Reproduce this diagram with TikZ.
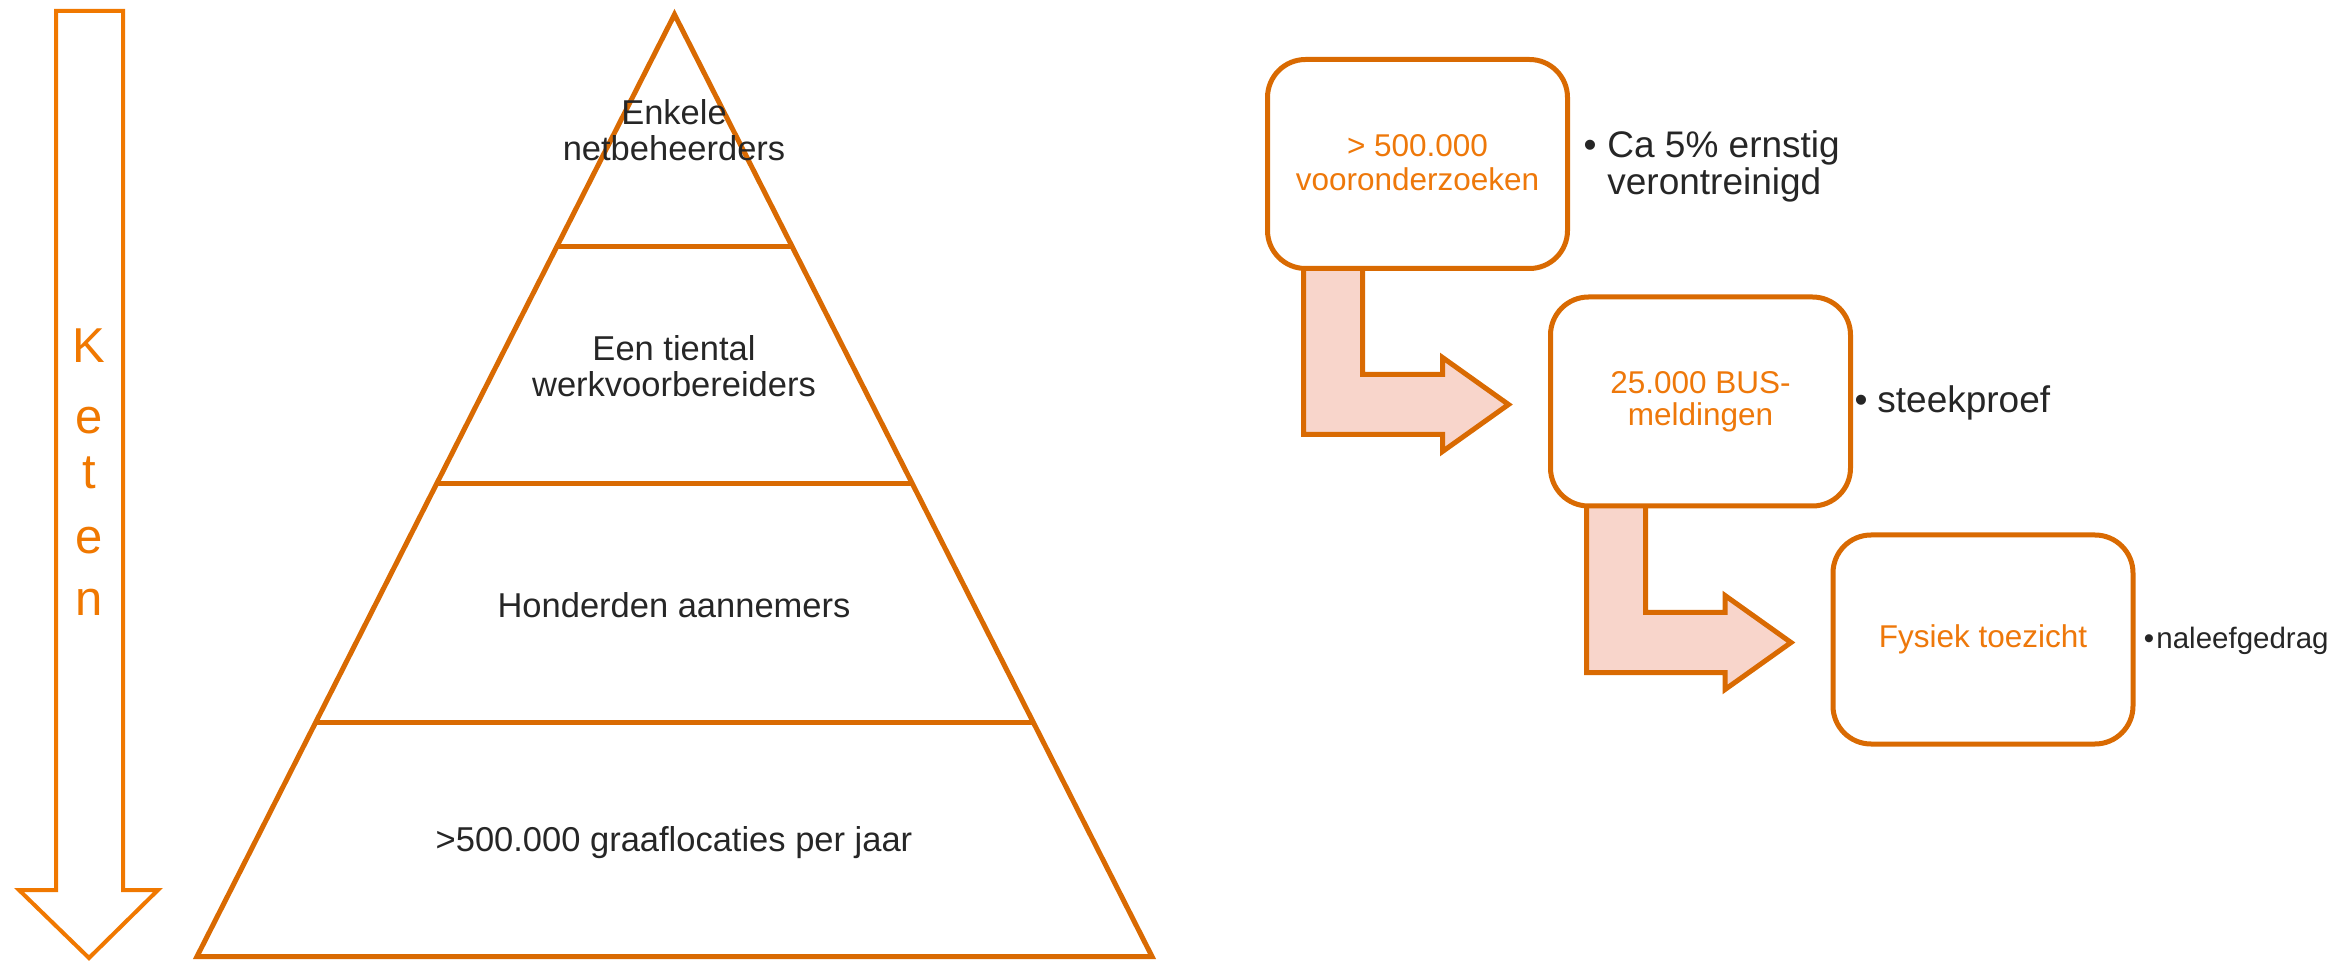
\documentclass[tikz,border=0pt]{standalone}
\usepackage{fontspec}
\setmainfont{Liberation Sans}
\usetikzlibrary{calc}
\pgfdeclarelayer{bg}
\pgfsetlayers{bg,main}
\definecolor{ketenor}{HTML}{F07800}
\definecolor{lineor}{HTML}{D96A02}
\definecolor{textor}{HTML}{EE780A}
\definecolor{txt}{HTML}{262626}
\definecolor{pinkfill}{HTML}{F8D5CB}
\begin{document}
\begin{tikzpicture}[x=0.5pt,y=-0.5pt,
  pyr/.style={draw=lineor, line width=2.5pt, line join=miter},
  pyrtext/.style={text=txt, align=center, inner sep=0pt, font=\fontsize{17.25pt}{18pt}\selectfont},
  stagebox/.style={draw=lineor, line width=2.5pt, fill=white, rounded corners=19pt,
    minimum width=150pt, minimum height=104.5pt, inner sep=0pt, outer sep=0pt,
    align=center, text=textor, font=\fontsize{15.75pt}{17pt}\selectfont},
  bentarrow/.style={draw=lineor, line width=2.5pt, fill=pinkfill, line join=miter},
  sidetext/.style={text=txt, inner sep=0pt, anchor=base west, font=\fontsize{18.5pt}{20pt}\selectfont},
  sidebullet/.style={text=txt, inner sep=0pt, anchor=base, font=\fontsize{18.5pt}{20pt}\selectfont},
  smalltext/.style={text=txt, inner sep=0pt, anchor=base west, font=\fontsize{14.75pt}{16pt}\selectfont},
  smallbullet/.style={text=txt, inner sep=0pt, anchor=base, font=\fontsize{14.75pt}{16pt}\selectfont},
  ketenletter/.style={text=ketenor, inner sep=0pt, anchor=base, font=\fontsize{24.5pt}{30pt}\selectfont},
  ketenarrow/.style={draw=ketenor, line width=2pt, line join=miter, fill=white}
]
\useasboundingbox (0,0) rectangle (2336,962);

% Keten arrow
\draw[ketenarrow] (56,11) -- (123,11) -- (123,890) -- (158,890) -- (89,958)
  -- (19,890) -- (56,890) -- cycle;
\node[ketenletter] (k1) at (89,363) {K};
\node[ketenletter] (k2) at (89,434) {e};
\node[ketenletter] (k3) at (89,489) {t};
\node[ketenletter] (k4) at (89,553) {e};
\node[ketenletter] (k5) at (89,616) {n};

% Pyramid
\coordinate (apex) at (674.5,14.5);
\coordinate (bl) at (197,956.5);
\coordinate (br) at (1152,956.5);
\draw[pyr] (apex) -- (br) -- (bl) -- cycle;
\draw[pyr] ($(apex)!0.2468!(bl)$) -- ($(apex)!0.2468!(br)$);
\draw[pyr] ($(apex)!0.4984!(bl)$) -- ($(apex)!0.4984!(br)$);
\draw[pyr] ($(apex)!0.7521!(bl)$) -- ($(apex)!0.7521!(br)$);
\node[pyrtext] (p1) at (674,130) {Enkele\\netbeheerders};
\node[pyrtext] (p2) at (674,366) {Een tiental\\werkvoorbereiders};
\node[pyrtext] (p3) at (674,605) {Honderden aannemers};
\node[pyrtext] (p4) at (674,843) {>500.000 graaflocaties per jaar};

% Stage boxes
\node[stagebox] (b1) at (1417.5,164) {\raisebox{1pt}{> 500.000}\\\raisebox{1pt}{vooronderzoeken}};
\node[stagebox, font=\fontsize{15.75pt}{16pt}\selectfont] (b2) at (1700.5,401.5) {25.000 BUS-\\meldingen};
\node[stagebox] (b3) at (1983,639.5) {\raisebox{-1.5pt}{Fysiek toezicht}};

% Bent arrows
\begin{pgfonlayer}{bg}
\draw[bentarrow] ($(b1.south west)+(36,-6)$) |- ($(b2.west)+(-108,33)$) -- ++(0,17)
  -- ($(b2.west)+(-42,3)$) -- ++(-66,-47) -- ++(0,17) -| ($(b1.south west)+(95,-6)$) -- cycle;
\draw[bentarrow] ($(b2.south west)+(36,-6)$) |- ($(b3.west)+(-108,33)$) -- ++(0,17)
  -- ($(b3.west)+(-42,3)$) -- ++(-66,-47) -- ++(0,17) -| ($(b2.south west)+(95,-6)$) -- cycle;
\end{pgfonlayer}

% Side texts
\node[sidebullet] (s1b) at (1590,158) {•};
\node[sidetext] (s1a) at (1607,158) {Ca 5\% ernstig};
\node[sidetext] (s1c) at (1607,195) {verontreinigd};
\node[sidebullet] (s2b) at (1861,413) {•};
\node[sidetext] (s2a) at (1877,413) {steekproef};
\node[smallbullet] (s3b) at (2149,648) {•};
\node[smalltext] (s3a) at (2156,648) {naleefgedrag};
\end{tikzpicture}
\end{document}
